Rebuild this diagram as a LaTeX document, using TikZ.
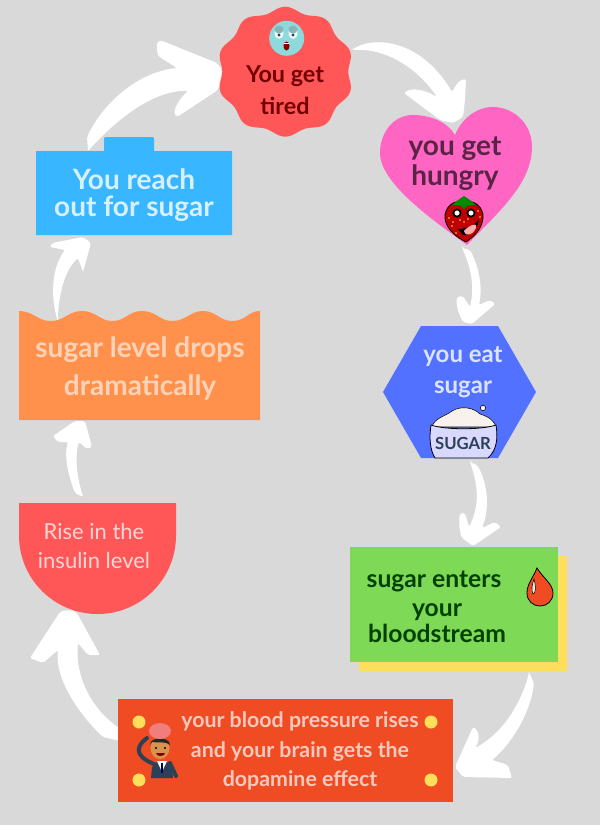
\documentclass[tikz,border=0pt]{standalone}
\usepackage{fontspec}
\setmainfont{Lato}
\definecolor{bg}{HTML}{D9D9D9}
\definecolor{redc}{HTML}{FF5757}
\definecolor{pinkc}{HTML}{FF66C4}
\definecolor{bluec}{HTML}{5271FF}
\definecolor{greenc}{HTML}{7ED957}
\definecolor{yellowc}{HTML}{FFDE59}
\definecolor{vermc}{HTML}{F04C23}
\definecolor{orangec}{HTML}{FF914D}
\definecolor{skyc}{HTML}{38B6FF}
\definecolor{facec}{HTML}{8ED9DC}
\definecolor{jacket}{HTML}{2D4156}
\tikzset{
  brush/.style={fill=white,draw=none,rounded corners=1.5pt},
  lbl/.style={inner sep=0pt,anchor=base,font=\fontsize{#1}{#1}\selectfont\bfseries},
  thinlbl/.style={inner sep=0pt,anchor=base,font=\fontsize{#1}{#1}\selectfont},
  dot/.style={fill=yellowc,draw=none},
}
\begin{document}
\begin{tikzpicture}[x=0.75pt,y=-0.75pt]
\useasboundingbox (0,0) rectangle (600,825);
\fill[bg] (0,0) rectangle (600,825);
% connector ends
\coordinate (a1s) at (352,50);   \coordinate (a1t) at (453,123);
\coordinate (a2s) at (88,151);   \coordinate (a2t) at (222,70);
\coordinate (a3s) at (462,248);  \coordinate (a3t) at (472,324);
\coordinate (a4s) at (470,462);  \coordinate (a4t) at (473,546);
\coordinate (a5s) at (529,673);  \coordinate (a5t) at (455,767);
\coordinate (a6s) at (125,742);  \coordinate (a6t) at (60,612);
\coordinate (a7s) at (83,497);   \coordinate (a7t) at (85,421);
\coordinate (a8s) at (58,322);   \coordinate (a8t) at (83,237);
% arrows (behind shapes)
\fill[brush] (a1s) .. controls (372,36) and (420,38) .. (452,92) .. controls (455,87) and (458,80) .. (466,79) -- (465,100) -- (463,117) -- (a1t) -- (440,120) -- (404,93) .. controls (412,87) and (425,90) .. (437,97) .. controls (420,72) and (390,48) .. (a1s) -- cycle;
\fill[brush] (a2s) -- (87,137) .. controls (105,100) and (140,72) .. (177,68) -- (158,56) .. controls (157,50) and (156,44) .. (160,40) -- (217,63) -- (a2t) -- (218,90) -- (177,117) .. controls (172,112) and (178,100) .. (188,91) .. controls (160,90) and (125,110) .. (a2s) -- cycle;
\fill[brush] (a3s) -- (470,250) .. controls (478,265) and (483,285) .. (479,305) -- (490,300) -- (495,304) -- (a3t) -- (463,322) .. controls (458,312) and (456,305) .. (457,297) -- (463,296) -- (470,307) .. controls (475,285) and (470,265) .. (a3s) -- cycle;
\fill[brush] (a4s) -- (477,465) .. controls (486,480) and (491,505) .. (482,528) -- (495,522) -- (501,527) -- (a4t) -- (462,538) .. controls (459,530) and (459,520) .. (460,513) -- (465,513) -- (469,527) .. controls (480,505) and (478,485) .. (a4s) -- cycle;
\fill[brush] (a5s) -- (534,683) .. controls (530,715) and (510,745) .. (492,760) -- (508,765) -- (512,778) -- (463,777) -- (a5t) -- (473,727) .. controls (478,730) and (481,738) .. (475,748) .. controls (505,732) and (522,700) .. (a5s) -- cycle;
\fill[brush] (a6s) -- (103,737) .. controls (80,715) and (55,680) .. (58,650) -- (43,663) -- (30,658) -- (a6t) .. controls (65,610) and (72,610) .. (77,613) -- (100,655) -- (88,655) -- (78,643) .. controls (75,675) and (90,710) .. (125,732) -- cycle;
\fill[brush] (a7s) -- (75,493) .. controls (68,475) and (64,455) .. (68,442) -- (58,442) -- (53,436) -- (75,421) -- (a7t) -- (92,447) -- (87,449) -- (79,442) .. controls (74,460) and (78,480) .. (a7s) -- cycle;
\fill[brush] (a8s) .. controls (50,295) and (52,268) .. (65,250) -- (50,247) -- (52,243) -- (a8t) -- (91,243) -- (83,272) -- (78,258) .. controls (65,270) and (58,295) .. (a8s) -- cycle;
% tired badge
\fill[redc] plot[smooth cycle,domain=0:357,samples=120] ({285.3+1.05*(62.5+2.5*cos(10*(\x-90)))*cos(\x)},{71.7+(62.5+2.5*cos(10*(\x-90)))*sin(\x)});
\fill[facec] (286.7,38.3) circle (17.5);
\fill[white!85!facec] (279,33) ellipse (4.5 and 6);
\fill[white!85!facec] (293,33) ellipse (4.5 and 6);
\fill[facec!60!gray] (279,29.5) ellipse (4.5 and 4);
\fill[facec!60!gray] (293,29.5) ellipse (4.5 and 4);
\fill[jacket] (279,35) circle (1.6);
\fill[jacket] (293,35) circle (1.6);
\fill[red!50!black] (286.5,46) ellipse (3 and 4.5);
\fill[white] (284.2,43) rectangle (288.8,44.2);
\node[lbl=17.5,text=red!45!black] (t1a) at (285,82) {You get};
\node[lbl=17.5,text=red!45!black] (t1b) at (285,114) {tired};
% hungry heart
\fill[pinkc] (455,135) .. controls (448,122) and (430,115) .. (413,115) .. controls (393,115) and (380,133) .. (380,153) .. controls (380,185) and (440,225) .. (467,245) .. controls (495,215) and (532,185) .. (532,147) .. controls (532,122) and (512,107) .. (493,107) .. controls (477,107) and (462,118) .. (455,135) -- cycle;
\node[lbl=21,text=pinkc!35!black] (t2a) at (455,155) {you get};
\node[lbl=21,text=pinkc!35!black] (t2b) at (455,185) {hungry};
% strawberry
\fill[red!75!black,draw=black,line width=0.6pt] (464,203) .. controls (474,198) and (484,208) .. (483,218) .. controls (482,230) and (472,238) .. (466,242) .. controls (458,238) and (446,230) .. (445,218) .. controls (444,208) and (454,198) .. (464,203) -- cycle;
\fill[green!55!black] (452,205) -- (458,200) -- (464,196) -- (470,200) -- (476,205) -- (468,205) -- (464,209) -- (460,205) -- cycle;
\fill[white,draw=black,line width=1.3pt] (457,213) circle (3.6);
\fill[white,draw=black,line width=1.3pt] (471,213) circle (3.6);
\fill[black] (458,229) .. controls (466,229) and (474,226) .. (479,219) .. controls (478,230) and (468,236) .. (463,235) -- cycle;
\fill[pink!90!red] (464,231) .. controls (468,226) and (478,221) .. (476,228) .. controls (474,234) and (466,238) .. (464,231) -- cycle;
\foreach \px/\py in {449/218,452/226,456/233,478/211,480/217,464/222,468/219,460/220,453/222}{\fill[yellowc] (\px,\py) circle (0.8);}
% sugar hexagon
\fill[bluec] (421,326) -- (498,326) -- (536,392) -- (498,458) -- (421,458) -- (383,392) -- cycle;
\node[lbl=18,text=white!80!bluec] (t3a) at (463,362) {you eat};
\node[lbl=18,text=white!80!bluec] (t3b) at (463,393) {sugar};
% sugar bowl
\fill[white!90!brown,draw=black,line width=0.4pt] (432,427) .. controls (434,418) and (446,416) .. (452,411) .. controls (462,405) and (474,408) .. (480,414) .. controls (490,417) and (495,422) .. (496,427) -- cycle;
\fill[blue!15!white,draw=black,line width=0.6pt] (431,425) .. controls (445,430) and (482,430) .. (496,425) .. controls (498,438) and (497,450) .. (488,458) -- (435,458) .. controls (430,450) and (429,438) .. (431,425) -- cycle;
\fill[white!90!brown,draw=black,line width=0.4pt] (483,408) circle (2.7);
\node[inner sep=0pt,font=\fontsize{12.5}{12.5}\selectfont\bfseries,text=jacket] (bowl) at (463,443) {SUGAR};
% blood box
\fill[yellowc] (359,556) rectangle (567,671);
\fill[greenc] (350,547) rectangle (558,662);
\node[lbl=18.5,text=green!25!black] (t4a) at (434,587) {sugar enters};
\node[lbl=18.5,text=green!25!black] (t4b) at (437,616) {your};
\node[lbl=18.5,text=green!25!black] (t4c) at (437,642) {bloodstream};
\filldraw[fill=vermc,draw=black,line width=0.6pt] (537,568) .. controls (533,578) and (527,584) .. (527,593) .. controls (527,601) and (533,606) .. (540,606) .. controls (547,606) and (553,601) .. (553,593) .. controls (553,584) and (543,578) .. (537,568) -- cycle;
\filldraw[fill=white!85!gray,draw=black,line width=0.4pt] (534,579) .. controls (532,585) and (531,590) .. (533,594) .. controls (536,594) and (536,585) .. (534,579) -- cycle;
% pressure box
\fill[vermc] (118,699) rectangle (453,802);
\foreach \dx/\dy in {139/722,431/722,139/780,431/780}{\fill[dot] (\dx,\dy) circle (6.5);}
\node[lbl=16,text=white!70!vermc] (t5a) at (300,727) {your blood pressure rises};
\node[lbl=16,text=white!70!vermc] (t5b) at (300,757) {and your brain gets the};
\node[lbl=16,text=white!70!vermc] (t5c) at (300,786) {dopamine effect};
% man
\draw[jacket,line width=3pt,line cap=round] (147,738) .. controls (136,746) and (134,756) .. (154,764);
\draw[jacket,line width=3pt,line cap=round] (170,763) -- (176,776);
\fill[jacket] (151,778) -- (152,767) -- (158,761) -- (166,761) -- (172,767) -- (173,778) -- cycle;
\fill[white] (157,761) -- (167,761) -- (162,772) -- cycle;
\fill[blue!35!black] (161,763) rectangle (163,773);
\fill[orange!30!brown!85!white] (160,748) ellipse (9.5 and 11);
\fill[black!85] (150,745) .. controls (150,736) and (170,736) .. (170,745) .. controls (166,741) and (158,743) .. (152,742) -- cycle;
\fill[black] (156,748) circle (1.2); \fill[black] (165,748) circle (1.2);
\fill[red!50!black] (156,752.5) -- (165,752.5) .. controls (165,757) and (156,757) .. (156,752.5) -- cycle;
\fill[red!35!pink!90!gray] (160,731) ellipse (11 and 8);
% insulin
\fill[redc] (19,503) -- (176,503) -- (176,535.5) arc[start angle=0,end angle=180,radius=78.5] -- cycle;
\node[thinlbl=16.5,text=white!75!redc] (t6a) at (94,539) {Rise in the};
\node[thinlbl=16.5,text=white!75!redc] (t6b) at (94,568) {insulin level};
% orange
\fill[orangec] (19,420) -- (19,311) .. controls (33,311) and (38,321) .. (50,321) .. controls (65,321) and (68,311) .. (82,311) .. controls (96,311) and (100,321) .. (112,321) .. controls (126,321) and (128,311) .. (142,311) .. controls (156,311) and (160,321) .. (172,321) .. controls (186,321) and (190,311) .. (203,311) .. controls (216,311) and (220,321) .. (232,321) .. controls (246,321) and (248,311) .. (260,311) -- (260,420) -- cycle;
\node[lbl=21,text=white!60!orangec] (t7a) at (140,357) {sugar level drops};
\node[lbl=21,text=white!60!orangec] (t7b) at (140,395) {dramatically};
% blue
\fill[skyc] (36,151) -- (104,151) -- (104,139) .. controls (104,137.5) and (104.5,137) .. (106,137) -- (152,137) .. controls (153.5,137) and (154,137.5) .. (154,139) -- (154,151) -- (232,151) -- (232,235) -- (36,235) -- cycle;
\node[lbl=21,text=white!80!skyc] (t8a) at (134,189) {You reach};
\node[lbl=21,text=white!80!skyc] (t8b) at (134,216) {out for sugar};
\end{tikzpicture}
\end{document}
